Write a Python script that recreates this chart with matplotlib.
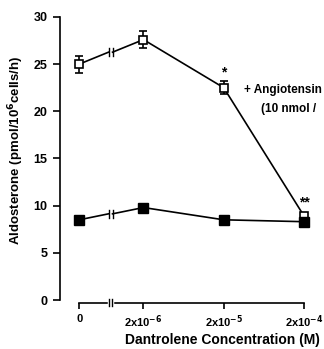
import matplotlib
matplotlib.use("Agg")
import matplotlib.pyplot as plt

# Data
conc_labels = ["0", "2x10$^{-6}$", "2x10$^{-5}$", "2x10$^{-4}$"]
conc_pos = [0.0, 0.8, 1.8, 2.8]      # log-ish spacing with axis break
break_pos = 0.39

ang_vals = [25.0, 27.6, 22.5, 8.9]
ang_err = [0.9, 0.9, 0.7, 0.3]
basal_vals = [8.5, 9.8, 8.5, 8.3]
basal_err = [0.2, 0.2, 0.2, 0.4]

plt.rcParams['font.family'] = ['Liberation Sans', 'DejaVu Sans']
plt.rcParams['font.weight'] = 'bold'

fig = plt.figure(figsize=(3.24, 3.49), dpi=100)
ax = fig.add_axes([0.185, 0.1404, 0.772, 0.811])

def broken_line(ax, x, y):
	# left segment up to the break, then the rest
	yb = y[0] + (y[1] - y[0]) * (break_pos - x[0]) / (x[1] - x[0])
	ax.plot([x[0], break_pos - 0.025], [y[0], yb], color='black', lw=1.2)
	ax.plot([break_pos + 0.025] + list(x[1:]), [yb] + list(y[1:]), color='black', lw=1.2)
	for dx in (-0.025, 0.025):
		ax.plot([break_pos + dx, break_pos + dx], [yb - 0.45, yb + 0.45], color='black', lw=1.0)

broken_line(ax, conc_pos, ang_vals)
broken_line(ax, conc_pos, basal_vals)

ax.errorbar(conc_pos, ang_vals, yerr=ang_err, fmt='s', mfc='white', mec='black',
	ecolor='black', ms=6, mew=1.2, capsize=3, elinewidth=1.2, zorder=3)
ax.errorbar(conc_pos, basal_vals, yerr=basal_err, fmt='s', mfc='black', mec='black',
	ecolor='black', ms=6.5, capsize=0, elinewidth=1.0, zorder=4)

# significance marks
ax.text(conc_pos[2], ang_vals[2] + 1.6, "*", ha='center', va='center', fontsize=10)
ax.text(conc_pos[3], 10.3, "**", ha='center', va='center', fontsize=10)

ax.text(conc_pos[2] + 0.25, 22.3, "+ Angiotensin", ha='left', va='center', fontsize=8.5, clip_on=False)
ax.text(conc_pos[2] + 0.46, 20.2, "(10 nmol /", ha='left', va='center', fontsize=8.5, clip_on=False)

ax.set_xlim(-0.24, 2.875)
ax.set_ylim(0, 30)
ax.set_yticks([0, 5, 10, 15, 20, 25, 30])
ax.set_xticks(conc_pos)
ax.set_xticklabels(conc_labels)

for s in ('top', 'right'):
	ax.spines[s].set_visible(False)
ax.spines['left'].set_bounds(0, 30)
ax.spines['left'].set_linewidth(1.2)
ax.spines['bottom'].set_position(('outward', 2))
ax.spines['bottom'].set_bounds(0, 2.8)
ax.spines['bottom'].set_linewidth(1.2)

# axis break on x axis
trans = ax.get_xaxis_transform()
ax.plot([break_pos - 0.018, break_pos + 0.018], [-0.0098, -0.0098], color='white', lw=2.5,
	transform=trans, clip_on=False, zorder=5)
for dx in (-0.022, 0.022):
	ax.plot([break_pos + dx, break_pos + dx], [-0.022, 0.003], color='black', lw=1.0,
		transform=trans, clip_on=False, zorder=6)

ax.tick_params(axis='y', direction='out', length=5, width=1.2, labelsize=9, pad=4)
ax.tick_params(axis='x', direction='out', length=4, width=1.2, labelsize=8, pad=4)

ax.set_ylabel("Aldosterone (pmol/10$^6$cells/h)", fontsize=9.5, fontweight='bold')
ax.yaxis.set_label_coords(-0.135, 0.53)
ax.set_xlabel("Dantrolene Concentration (M)", fontsize=10, fontweight='bold')
ax.xaxis.set_label_coords(0.65, -0.115)

fig.savefig("out.png", dpi=100)
